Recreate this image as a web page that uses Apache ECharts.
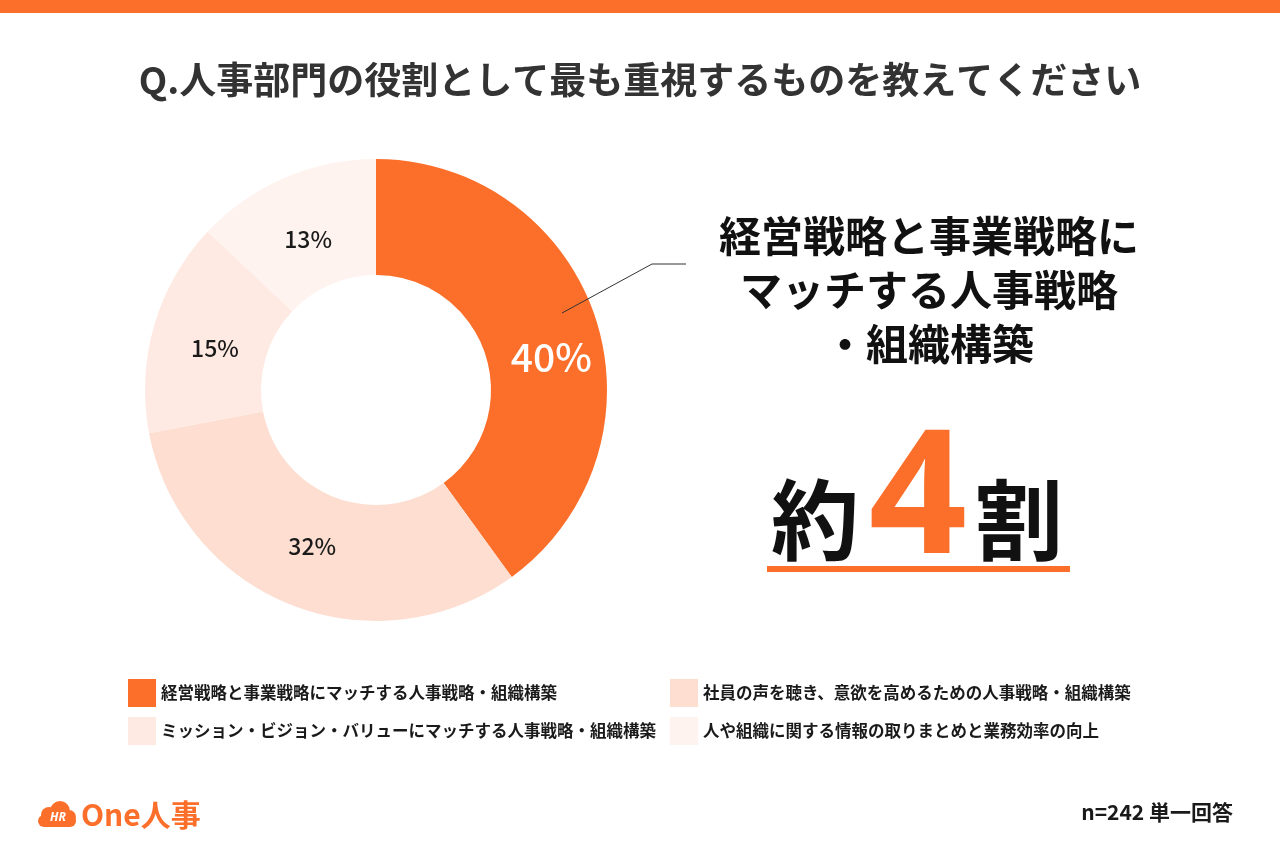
<!DOCTYPE html>
<html>
<head>
<meta charset="utf-8">
<script src="https://cdn.jsdelivr.net/npm/echarts@6/dist/echarts.min.js"></script>
<style>
  html, body { margin: 0; padding: 0; background: #fff; }
  #main { width: 1280px; height: 853px; }
</style>
</head>
<body>
<div id="main"></div>
<script>
(function() {
  var FONT = '"Noto Sans CJK JP", "Noto Sans", sans-serif';
  var ORANGE = '#FC6F2B';

  // 回答データ（単一回答 n=242）
  var categories = [
    '経営戦略と事業戦略にマッチする人事戦略・組織構築',
    '社員の声を聴き、意欲を高めるための人事戦略・組織構築',
    'ミッション・ビジョン・バリューにマッチする人事戦略・組織構築',
    '人や組織に関する情報の取りまとめと業務効率の向上'
  ];
  var values = [40, 32, 15, 13];
  var sliceColors = [ORANGE, '#FDDED1', '#FEEAE2', '#FEF3EE'];
  // ラベルの微調整（元の図に合わせる）
  var labelOffsets = [[8, 2], [1, -7], [8, 7], [2, 11]];

  var pieData = [];
  for (var i = 0; i < categories.length; i++) {
    var item = {
      name: categories[i],
      value: values[i],
      itemStyle: { color: sliceColors[i] },
      label: { offset: labelOffsets[i] }
    };
    if (i === 0) {
      // 一番大きい割合だけ白の大きい文字
      item.label = { color: '#fff', fontSize: 39, fontWeight: 500, offset: [8, 22] };
    }
    pieData.push(item);
  }

  var legendText = { fontSize: 16.5, fontWeight: 'bold', color: '#1a1a1a', fontFamily: FONT };
  function makeLegend(left, names) {
    return {
      orient: 'vertical',
      left: left,
      top: 679,
      padding: 0,
      itemWidth: 28,
      itemHeight: 28,
      itemGap: 10,
      icon: 'rect',
      selectedMode: false,
      data: names,
      textStyle: legendText
    };
  }

  var option = {
    backgroundColor: '#fff',
    animation: false,
    title: {
      text: 'Q.人事部門の役割として最も重視するものを教えてください',
      left: 'center',
      top: 56,
      textStyle: { fontSize: 37, fontWeight: 'bold', color: '#333', fontFamily: FONT }
    },
    legend: [
      makeLegend(128, [categories[0], categories[2]]),
      makeLegend(670, [categories[1], categories[3]])
    ],
    series: [{
      type: 'pie',
      center: [376, 390],
      radius: [115, 231],
      startAngle: 90,
      clockwise: true,
      silent: true,
      z: 2,
      label: {
        show: true,
        position: 'inside',
        formatter: '{c}%',
        fontSize: 23,
        fontWeight: 500,
        color: '#1a1a1a',
        fontFamily: FONT
      },
      labelLine: { show: false },
      data: pieData
    }],
    graphic: [
      { type: 'rect', shape: { x: 0, y: 0, width: 1280, height: 13 }, style: { fill: ORANGE } },
      {
        type: 'polyline',
        z: 100,
        shape: { points: [[562, 313], [652, 264], [686, 264]] },
        style: { stroke: '#333', lineWidth: 1, fill: null }
      },
      {
        type: 'text', x: 929, y: 290,
        style: {
          text: '経営戦略と事業戦略に\nマッチする人事戦略\n・組織構築',
          font: 'bold 42px ' + FONT,
          lineHeight: 54,
          fill: '#111',
          textAlign: 'center',
          textVerticalAlign: 'middle'
        }
      },
      {
        type: 'text', x: 815, y: 520,
        style: { text: '約', font: 'bold 88px ' + FONT, fill: '#111', textAlign: 'center', textVerticalAlign: 'middle' }
      },
      {
        type: 'text', x: 918, y: 504,
        style: { text: '4', font: 'bold 172px "Noto Sans", sans-serif', fill: ORANGE, textAlign: 'center', textVerticalAlign: 'middle' }
      },
      {
        type: 'text', x: 1019, y: 520,
        style: { text: '割', font: 'bold 88px ' + FONT, fill: '#111', textAlign: 'center', textVerticalAlign: 'middle' }
      },
      { type: 'rect', shape: { x: 767, y: 566, width: 303, height: 6 }, style: { fill: ORANGE } },
      // ロゴ
      {
        type: 'group',
        children: [
          { type: 'circle', shape: { cx: 49, cy: 815, r: 8 }, style: { fill: ORANGE } },
          { type: 'circle', shape: { cx: 60, cy: 811, r: 10 }, style: { fill: ORANGE } },
          { type: 'circle', shape: { cx: 69, cy: 817, r: 7 }, style: { fill: ORANGE } },
          { type: 'rect', shape: { x: 38, y: 815, width: 38, height: 12, r: 6 }, style: { fill: ORANGE } },
          {
            type: 'text', x: 58, y: 818,
            style: { text: 'HR', font: 'bold italic 12px "Noto Sans", sans-serif', fill: '#fff', textAlign: 'center', textVerticalAlign: 'middle' }
          },
          {
            type: 'text', x: 81, y: 815,
            style: { text: 'One人事', font: 'bold 30px ' + FONT, fill: ORANGE, textAlign: 'left', textVerticalAlign: 'middle' }
          }
        ]
      },
      {
        type: 'text', x: 1233, y: 812,
        style: { text: 'n=242 単一回答', font: 'bold 21px ' + FONT, fill: '#1a1a1a', textAlign: 'right', textVerticalAlign: 'middle' }
      }
    ]
  };

  var chart = echarts.init(document.getElementById('main'));
  chart.setOption(option);
})();
</script>
</body>
</html>
